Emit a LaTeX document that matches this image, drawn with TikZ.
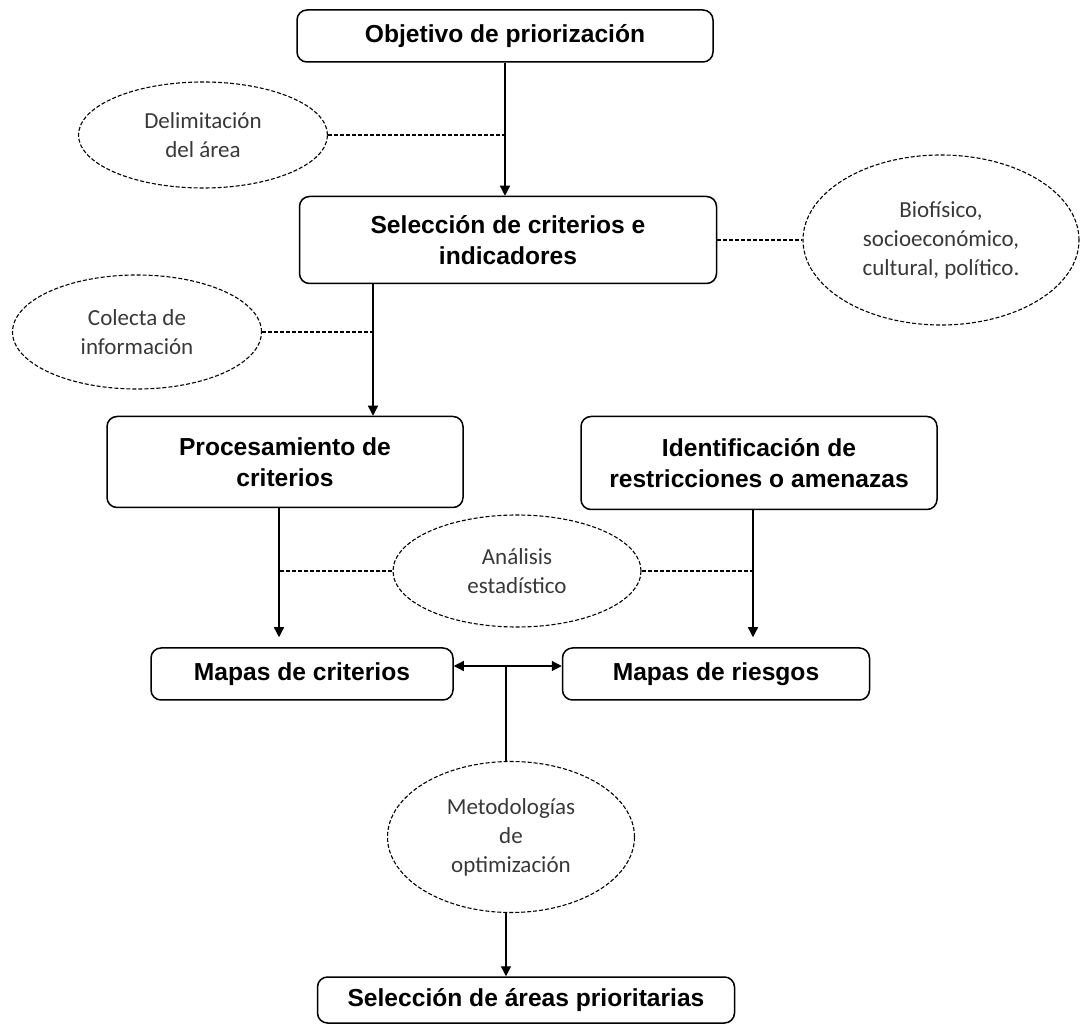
\documentclass[tikz,border=0pt]{standalone}
\usepackage{fontspec}
\setmainfont{Liberation Sans}
\newfontfamily\notafont{Carlito}
\usepackage{tikz}
\usetikzlibrary{positioning}
\usetikzlibrary{shapes.geometric}
\usetikzlibrary{arrows.meta}
\usetikzlibrary{calc}

\begin{document}
\begin{tikzpicture}[x=0.5pt, y=-0.5pt,
  paso/.style={draw, rounded corners=5pt, line width=0.75pt, align=center, inner sep=0pt,
    font=\fontsize{12.3}{15.5}\selectfont\bfseries},
  nota/.style={draw, dash pattern=on 2pt off 1pt, ellipse, line width=0.55pt, align=center,
    inner sep=0pt, text=black!78, font=\notafont\fontsize{11.5}{14.5}\selectfont},
  flecha/.style={-{Triangle[length=5pt,width=5pt]}, line width=0.65pt},
  dobleflecha/.style={{Triangle[length=5pt,width=5pt]}-{Triangle[length=5pt,width=5pt]}, line width=0.65pt},
  enlace/.style={dash pattern=on 2pt off 1pt, line width=0.55pt}]

\useasboundingbox (0,0) rectangle (1083,1026);

% pasos
\node[paso, minimum width=208pt, minimum height=26pt] (obj) at (505,36) {Objetivo de priorización};
\node[paso, minimum width=208.5pt, minimum height=43.5pt] (sel) at (508,240) {Selección de criterios e\\indicadores};
\node[paso, minimum width=178pt, minimum height=45.5pt] (proc) at (285,462) {Procesamiento de\\criterios};
\node[paso, minimum width=178pt, minimum height=46.5pt] (ident) at (759,463) {Identificación de\\restricciones o amenazas};
\node[paso, minimum width=151pt, minimum height=26pt] (mapc) at (302,674) {Mapas de criterios};
\node[paso, minimum width=153.5pt, minimum height=26pt] (mapr) at (716,674) {Mapas de riesgos};
\node[paso, minimum width=208.5pt, minimum height=23pt] (final) at (526,1000) {Selección de áreas prioritarias};

% notas
\node[nota, minimum width=124.5pt, minimum height=53pt] (delim) at (203,135) {Delimitación\\del área};
\node[nota, minimum width=138pt, minimum height=85pt] (bio) at (941,240) {Biofísico,\\socioeconómico,\\cultural, político.};
\node[nota, minimum width=124.5pt, minimum height=57pt] (colecta) at (137,332) {Colecta de\\información};
\node[nota, minimum width=124pt, minimum height=56pt] (analisis) at (517,571) {Análisis\\estadístico};
\node[nota, minimum width=123.5pt, minimum height=75.5pt] (metod) at (511,837) {Metodologías\\de\\optimización};

\coordinate (bajada) at (373,0);
\coordinate (izq) at (279,0);
\coordinate (der) at (753,0);
\coordinate (cruce) at (506,666);

\draw[flecha] (obj.south) -- (obj.south |- sel.north);
\draw[enlace] (delim.east) -- (obj.south |- delim.east);
\draw[enlace] (sel.east) -- (bio.west);

\draw[flecha] (bajada |- sel.south) -- (bajada |- proc.north);
\draw[enlace] (colecta.east) -- (bajada |- colecta.east);

\draw[flecha, shorten >=5pt] (izq |- proc.south) -- (izq |- mapc.north);
\draw[flecha, shorten >=5pt] (der |- ident.south) -- (der |- mapr.north);
\draw[enlace] (analisis.west) -- (izq |- analisis.west);
\draw[enlace] (analisis.east) -- (der |- analisis.east);

\draw[dobleflecha] (mapc.east |- cruce) -- (mapr.west |- cruce);
\draw[line width=0.65pt] (cruce) -- (cruce |- metod.north);
\draw[flecha] (cruce |- metod.south) -- (cruce |- final.north);
\end{tikzpicture}
\end{document}
